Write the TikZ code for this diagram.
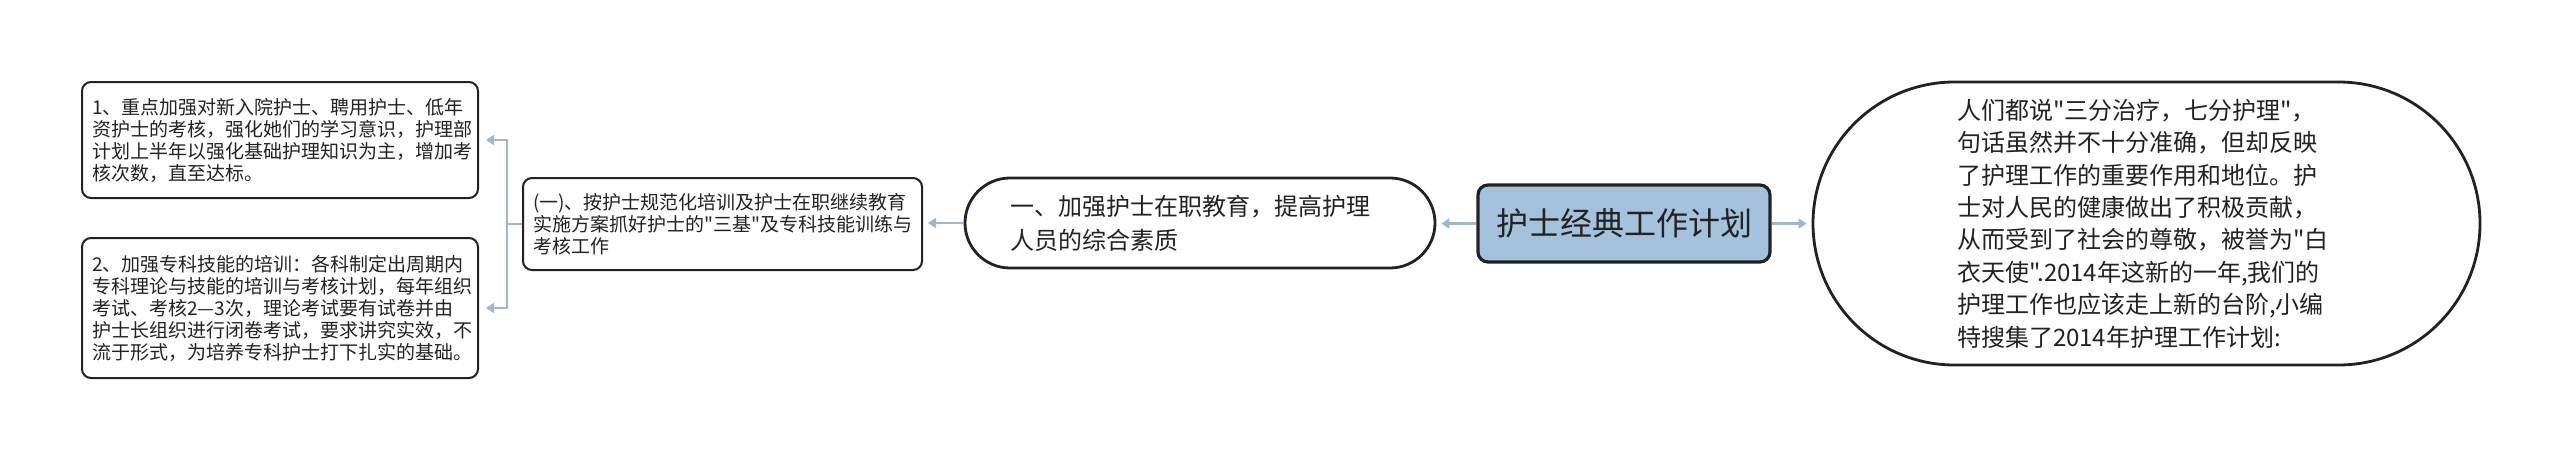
\documentclass[tikz,border=0pt]{standalone}
\usepackage{fontspec}
\usepackage{xcolor}
\setmainfont{Noto Sans CJK SC}[Ligatures=TeXOff]
\usetikzlibrary{
    positioning,
    calc,
    arrows.meta
}
\definecolor{AzulRaiz}{HTML}{A5C2DD}
\definecolor{AzulLinha}{HTML}{9CB8D3}
\definecolor{Tinta}{HTML}{222222}

\tikzset{
    leafbox/.style={
        draw=Tinta,
        line width=1pt,
        rounded corners=4.5pt,
        inner xsep=5pt,
        inner ysep=0pt,
        align=left,
        text=Tinta,
        font=\fontsize{9.5pt}{11pt}\selectfont
    },
    link/.style={
        draw=AzulLinha,
        line width=1.25pt,
        -{Triangle[length=4pt,width=5pt]}
    }
}

\begin{document}
\begin{tikzpicture}[x=0.5pt, y=-0.5pt]
                \fill[white] (0,0) rectangle (2560,461);
                \useasboundingbox (0,0) rectangle (2560,461);

                % central topic
                \node[
                    draw=Tinta,
                    line width=1.6pt,
                    fill=AzulRaiz,
                    rounded corners=5pt,
                    minimum width=146pt,
                    minimum height=38.5pt,
                    text=Tinta,
                    font=\fontsize{16pt}{19pt}\selectfont
                ] (root) at (1624,223.5) {护士经典工作计划};

                % introduction on the right
                \node[
                    draw=Tinta,
                    line width=1.4pt,
                    rounded corners=70.75pt,
                    text width=189.5pt,
                    inner xsep=72pt,
                    inner ysep=0pt,
                    minimum height=141.5pt,
                    align=left,
                    text=Tinta,
                    font=\fontsize{12pt}{16.2pt}\selectfont
                ] (intro) at (2146.5,223.5) {人们都说"三分治疗，七分护理"，\\句话虽然并不十分准确，但却反映\\了护理工作的重要作用和地位。护\\士对人民的健康做出了积极贡献，\\从而受到了社会的尊敬，被誉为"白\\衣天使".2014年这新的一年,我们的\\护理工作也应该走上新的台阶,小编\\特搜集了2014年护理工作计划:};

                % first branch
                \node[
                    draw=Tinta,
                    line width=1.4pt,
                    rounded corners=22.5pt,
                    text width=190pt,
                    inner xsep=22.5pt,
                    inner ysep=0pt,
                    minimum height=45pt,
                    align=left,
                    text=Tinta,
                    font=\fontsize{12pt}{17pt}\selectfont
                ] (edu) at (1200,223) {一、加强护士在职教育，提高护理\\人员的综合素质};

                \node[leafbox, text width=189.5pt, minimum height=46pt]
                    (sub) at (722.5,224) {(一)、按护士规范化培训及护士在职继续教育\\实施方案抓好护士的"三基"及专科技能训练与\\考核工作};

                \node[leafbox, text width=188pt, minimum height=58pt]
                    (strengthA) at (280,140) {1、重点加强对新入院护士、聘用护士、低年\\资护士的考核，强化她们的学习意识，护理部\\计划上半年以强化基础护理知识为主，增加考\\核次数，直至达标。};

                \node[leafbox, text width=188pt, minimum height=70pt]
                    (strengthB) at (280,308) {2、加强专科技能的培训：各科制定出周期内\\专科理论与技能的培训与考核计划，每年组织\\考试、考核2—3次，理论考试要有试卷并由\\护士长组织进行闭卷考试，要求讲究实效，不\\流于形式，为培养专科护士打下扎实的基础。};

                \coordinate[left=7.5pt of sub.west] (fork);

                % connectors
                \draw[link, shorten >=2.5pt] (root.west) -- (root.west -| edu.east);
                \draw[link, shorten >=2.5pt] (root.east) -- (root.east -| intro.west);
                \draw[link, shorten >=2.5pt] (edu.west) -- (edu.west -| sub.east);
                \draw[link, shorten >=3.5pt] (sub.west) -- (fork) |- (strengthA.east);
                \draw[link, shorten >=3.5pt] (fork) |- (strengthB.east);
            \end{tikzpicture}
\end{document}
